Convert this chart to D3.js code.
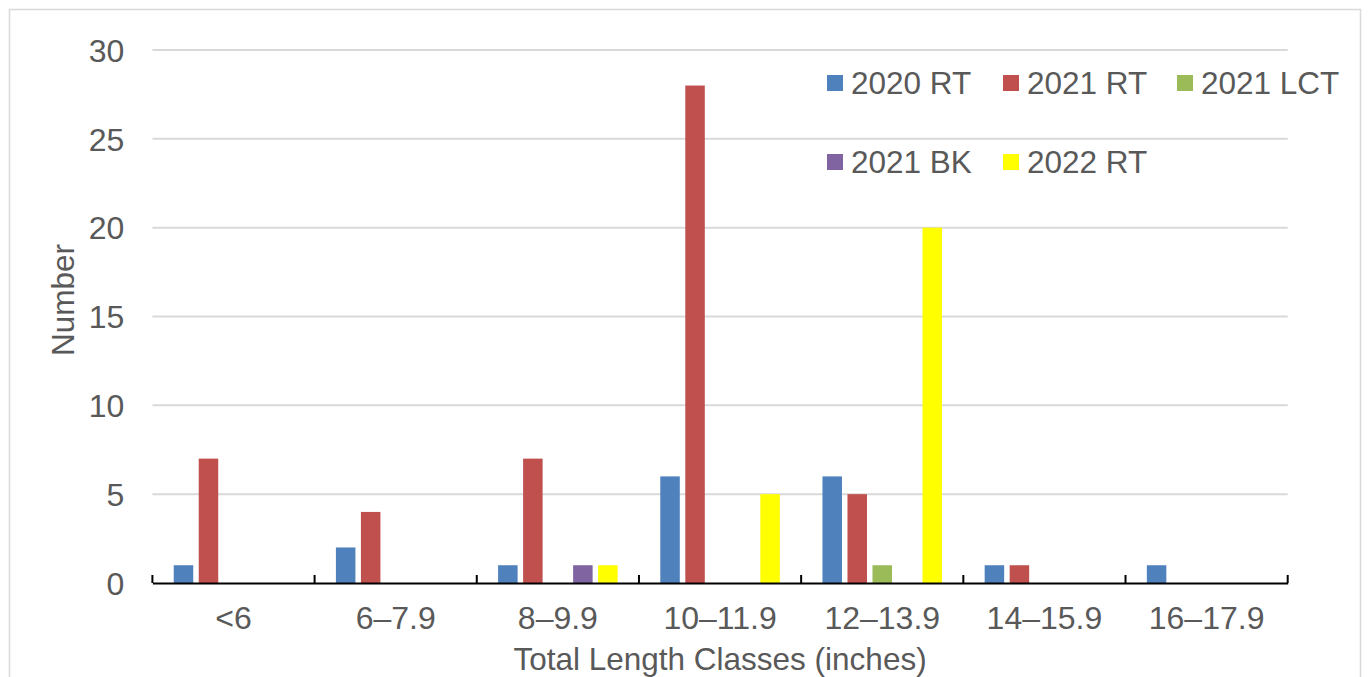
<!DOCTYPE html>
<html><head><meta charset="utf-8">
<script src="https://cdn.jsdelivr.net/npm/d3@7"></script>
<style>body{margin:0;background:#fff}svg{display:block}text{font-family:"Liberation Sans",Arial,sans-serif;fill:#595959}</style>
</head><body><svg id="c" width="1369" height="677"></svg>
<script>
const categories = ["<6","6–7.9","8–9.9","10–11.9","12–13.9","14–15.9","16–17.9"];
const seriesNames = ["2020 RT","2021 RT","2021 LCT","2021 BK","2022 RT"];
const seriesColors = ["#4f81bd","#c0504d","#9bbb59","#8064a2","#ffff00"];
const s2020RT = [1,2,1,6,6,1,1];
const s2021RT = [7,4,7,28,5,1,0];
const s2021LCT = [0,0,0,0,1,0,0];
const s2021BK = [0,0,1,0,0,0,0];
const s2022RT = [0,0,1,5,20,0,0];
const yTicks = [0,5,10,15,20,25,30];
const seriesValues = [s2020RT,s2021RT,s2021LCT,s2021BK,s2022RT];

const svg = d3.select("#c");
svg.append("rect").attr("x",9.5).attr("y",9.5).attr("width",1351).attr("height",700)
  .attr("fill","#fff").attr("stroke","#d9d9d9").attr("stroke-width",1.5);

const L=152.4, R=1287.7, T=50, B=583;
const x0 = d3.scaleBand().domain(categories).range([L,R]).paddingInner(0.263).paddingOuter(0.1315);
const x1 = d3.scaleBand().domain(seriesNames).range([0,x0.bandwidth()]).paddingInner(0.22).paddingOuter(0.0);
const y = d3.scaleLinear().domain([0,30]).range([B,T]);

// grid
svg.append("g").selectAll("line").data(yTicks.filter(d=>d>0)).join("line")
  .attr("x1",L).attr("x2",R).attr("y1",d=>y(d)).attr("y2",d=>y(d))
  .attr("stroke","#d9d9d9").attr("stroke-width",2);

// y labels
const ya = svg.append("g").attr("transform",`translate(${L-28},0)`)
  .call(d3.axisLeft(y).tickValues(yTicks).tickSize(0).tickPadding(0));
ya.select(".domain").remove();
ya.selectAll("text").style("font-size","32px").attr("fill","#595959").attr("dy","0.35em")
  .style("font-family",'"Liberation Sans",Arial,sans-serif');

// bars
const groups = svg.append("g").selectAll("g").data(categories).join("g")
  .attr("transform",d=>`translate(${x0(d)},0)`);
groups.selectAll("rect").data((c,i)=>seriesNames.map((s,j)=>({s,v:seriesValues[j][i],c:seriesColors[j]})))
  .join("rect").filter(d=>d.v>0)
  .attr("x",d=>x1(d.s)).attr("width",x1.bandwidth())
  .attr("y",d=>y(d.v)).attr("height",d=>B-y(d.v)).attr("fill",d=>d.c);

// x axis
const xa = svg.append("g").attr("transform",`translate(0,${B})`)
  .call(d3.axisBottom(x0).tickSize(0).tickPadding(23));
xa.select(".domain").attr("stroke","#000").attr("stroke-width",2);
xa.selectAll("text").style("font-size","32px").attr("fill","#595959")
  .style("font-family",'"Liberation Sans",Arial,sans-serif');
const bounds = categories.map(c=>x0(c)-x0.step()*x0.paddingInner()/2).concat([R]);
svg.append("g").selectAll("line").data(bounds).join("line")
  .attr("x1",d=>d).attr("x2",d=>d).attr("y1",B-8).attr("y2",B)
  .attr("stroke","#000").attr("stroke-width",2);

// titles
svg.append("text").attr("x",(L+R)/2).attr("y",670).attr("text-anchor","middle")
  .style("font-size","31.5px").text("Total Length Classes (inches)");
svg.append("text").attr("transform","translate(74,300) rotate(-90)").attr("text-anchor","middle")
  .style("font-size","31.5px").text("Number");

// legend
const legPos = [[827,83],[1003,83],[1177,83],[827,162],[1003,162]];
const lg = svg.append("g").selectAll("g").data(seriesNames).join("g")
  .attr("transform",(d,i)=>`translate(${legPos[i][0]},${legPos[i][1]})`);
lg.append("rect").attr("x",0).attr("y",-8).attr("width",16).attr("height",16).attr("fill",(d,i)=>seriesColors[i]);
lg.append("text").attr("x",24).attr("y",0).attr("dy","0.36em").style("font-size","31.5px").text(d=>d);
</script></body></html>
